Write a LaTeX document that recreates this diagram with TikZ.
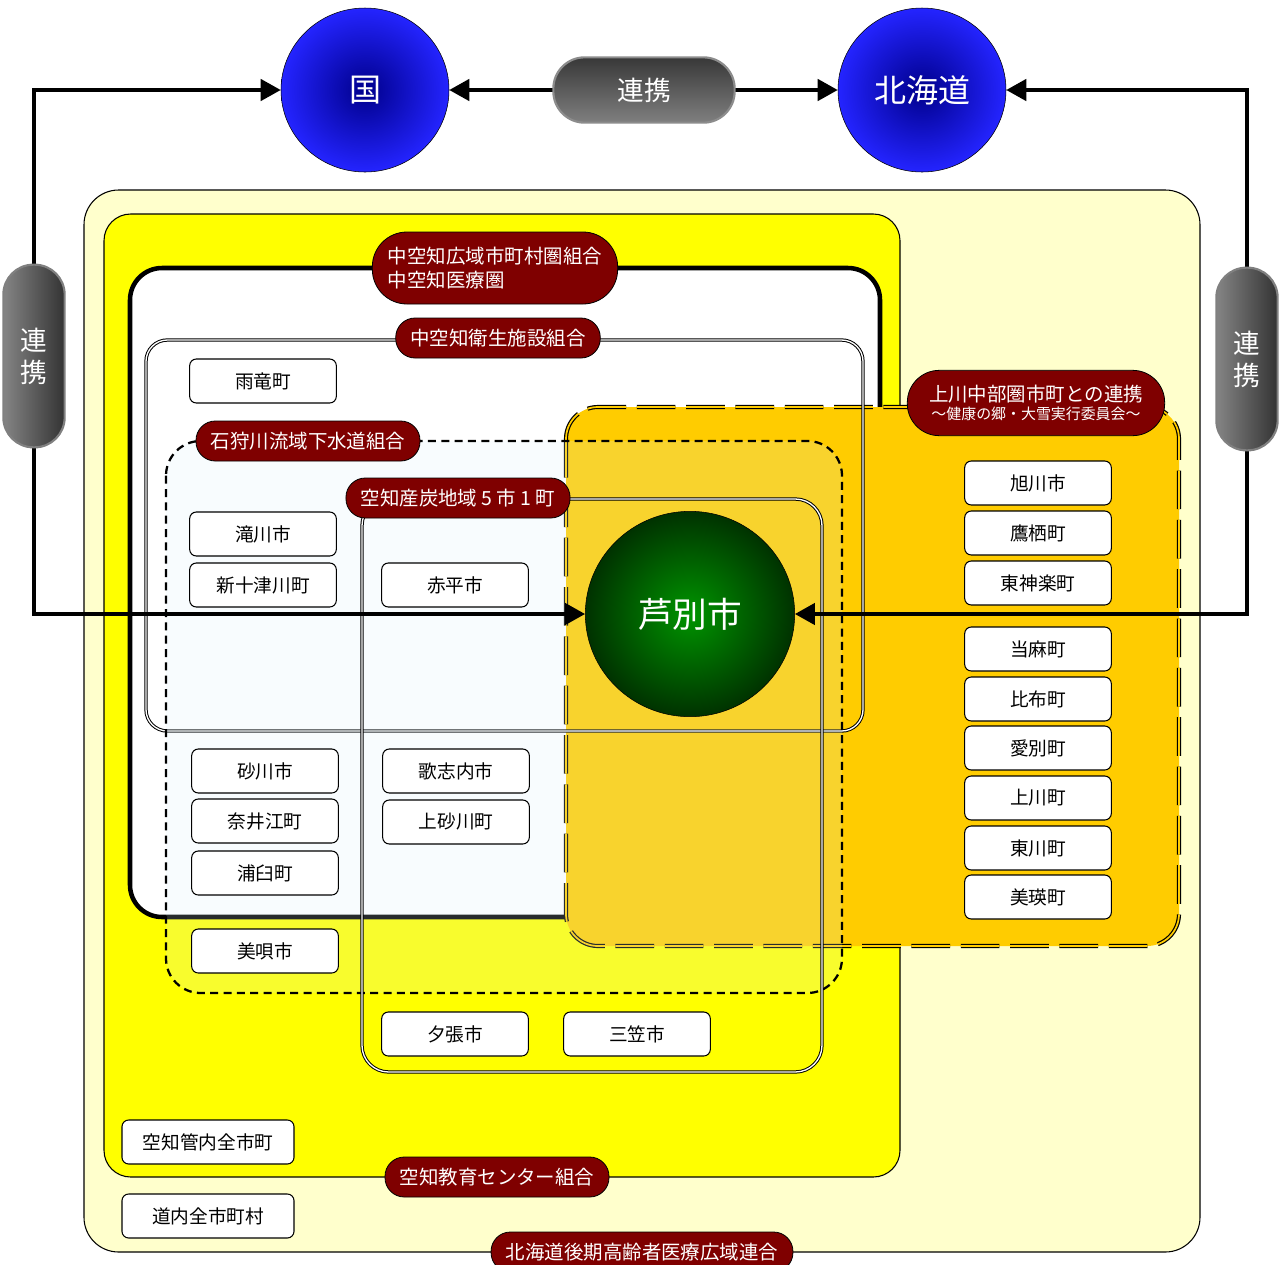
\documentclass[tikz,border=0pt]{standalone}
\usepackage{fontspec}
\setmainfont{Noto Sans CJK JP}
\usetikzlibrary{shapes.geometric,arrows.meta}
\definecolor{lyel}{HTML}{FFFFCC}
\definecolor{yel}{HTML}{FFFF00}
\definecolor{org}{HTML}{FFCC00}
\definecolor{dred}{HTML}{7F0000}
\definecolor{navyc}{HTML}{00008C}
\definecolor{bluee}{HTML}{2424FF}
\definecolor{greenc}{HTML}{009400}
\definecolor{greene}{HTML}{003200}
\pgfdeclarelayer{regions}
\pgfdeclarelayer{lines}
\pgfsetlayers{regions,lines,main}
\begin{document}
\begin{tikzpicture}[x=0.75pt,y=-0.75pt,
  muni/.style={draw, fill=white, rounded corners=5pt, minimum width=110pt, minimum height=33pt, inner sep=0pt, line width=0.8pt, font=\fontsize{14}{16}\selectfont},
  tag/.style={draw, fill=dred, text=white, rounded corners=14.5pt, minimum height=30pt, inner xsep=11pt, inner ysep=0pt, line width=0.6pt, font=\fontsize{14.6}{17}\selectfont},
  pillh/.style={draw=black!45, line width=1.6pt, text=white, shading=axis, top color=black!78, bottom color=black!50, rounded corners=23.5pt, minimum width=136pt, minimum height=49pt, font=\fontsize{20}{24}\selectfont},
  pillv/.style={draw=black!50, line width=1.6pt, text=white, shading=axis, left color=black!48, right color=black!80, rounded corners=22.5pt, minimum width=46pt, minimum height=137pt, align=center, font=\fontsize{20}{24}\selectfont},
  ballb/.style={ellipse, draw, text=white, inner sep=0pt, shading=radial, inner color=navyc, outer color=bluee, minimum width=126pt, minimum height=123pt, font=\fontsize{24}{28}\selectfont},
  link/.style={line width=2.6pt, {Triangle[length=15pt,width=16pt]}-{Triangle[length=15pt,width=16pt]}},
  dbl/.style={double=white, double distance=1pt, line width=0.75pt}
]
\useasboundingbox (0,0) rectangle (1283,1265);

\begin{pgfonlayer}{regions}
\fill[white] (0,0) rectangle (1283,1265);
% 北海道後期高齢者医療広域連合
\draw[fill=lyel, line width=0.8pt, rounded corners=26pt] (84,190) rectangle (1200,1252);
% 空知教育センター組合
\draw[fill=yel, line width=0.8pt, rounded corners=20pt] (104,214) rectangle (900,1177);
% 中空知広域市町村圏組合
\draw[fill=white, line width=3.4pt, rounded corners=24pt] (130,268) rectangle (880,917);
% 上川中部圏
\draw[fill=org, dbl, double=org, double distance=1.3pt, line width=0.9pt, dash pattern=on 29pt off 8pt, rounded corners=24pt] (566,407) rectangle (1179,946);
% 中空知衛生施設組合
\draw[dbl, rounded corners=16pt] (146,340) rectangle (863,731);
% 石狩川流域下水道組合
\fill[cyan!15!white, fill opacity=0.18, rounded corners=26pt] (166,441) rectangle (842,993);
\draw[line width=1.7pt, dash pattern=on 6pt off 4pt, rounded corners=26pt] (166,441) rectangle (842,993);
% 空知産炭地域
\draw[dbl, rounded corners=20pt] (362,499) rectangle (822,1072);
\end{pgfonlayer}

% circles
\node[ballb] (kuni) at (365,90) {国};
\node[ballb] (hokkaido) at (922,90) {北海道};
\node[ellipse, draw, text=white, inner sep=0pt, shading=radial, inner color=greenc, outer color=greene, minimum width=157pt, minimum height=154pt, font=\fontsize{26}{30}\selectfont] (ashibetsu) at (690,614) {芦別市};

% pills
\node[pillh] (renT) at (644,90) {連携};
\node[pillv] (renL) at (34,356) {連\\携};
\node[pillv] (renR) at (1247,359) {連\\携};

% connectors
\begin{pgfonlayer}{lines}
\draw[link] (kuni.east) -- (hokkaido.west);
\draw[link] (kuni.west) -| (renL.center) |- (ashibetsu.west);
\draw[link] (hokkaido.east) -| (renR.center) |- (ashibetsu.east);
\end{pgfonlayer}

% municipalities
\node[muni] (uryu) at (263,381) {雨竜町};
\node[muni] (takikawa) at (263,534) {滝川市};
\node[muni] (shintotsukawa) at (263,585) {新十津川町};
\node[muni] (akabira) at (455,585) {赤平市};
\node[muni] (sunagawa) at (265,771) {砂川市};
\node[muni] (naie) at (265,821) {奈井江町};
\node[muni] (urausu) at (265,873) {浦臼町};
\node[muni] (bibai) at (265,951) {美唄市};
\node[muni] (utashinai) at (456,771) {歌志内市};
\node[muni] (kamisunagawa) at (456,822) {上砂川町};
\node[muni] (yubari) at (455,1034) {夕張市};
\node[muni] (mikasa) at (637,1034) {三笠市};
\node[muni] (asahikawa) at (1038,483) {旭川市};
\node[muni] (takasu) at (1038,533) {鷹栖町};
\node[muni] (higashikagura) at (1038,583) {東神楽町};
\node[muni] (toma) at (1038,649) {当麻町};
\node[muni] (pippu) at (1038,699) {比布町};
\node[muni] (aibetsu) at (1038,748) {愛別町};
\node[muni] (kamikawacho) at (1038,798) {上川町};
\node[muni] (higashikawa) at (1038,848) {東川町};
\node[muni] (biei) at (1038,897) {美瑛町};
\node[muni, minimum width=129pt] (sorachiall) at (208,1142) {空知管内全市町};
\node[muni, minimum width=129pt] (doall) at (208,1216) {道内全市町村};

% region labels
\node[tag, align=left, minimum width=184pt, minimum height=54pt, rounded corners=26pt, font=\fontsize{14.6}{18}\selectfont] (chukuuchi) at (495,268) {中空知広域市町村圏組合\\中空知医療圏};
\node[tag] (eisei) at (498,338) {中空知衛生施設組合};
\node[tag] (ishikari) at (308,441) {石狩川流域下水道組合};
\node[tag] (santan) at (458,498) {空知産炭地域 5 市 1 町};
\node[tag, align=center, minimum width=193pt, minimum height=49pt, rounded corners=24pt] (kamikawa) at (1036,403) {上川中部圏市町との連携\\[-3pt]{\fontsize{11.2}{13}\selectfont ～健康の郷・大雪実行委員会～}};
\node[tag] (kyoiku) at (497,1177) {空知教育センター組合};
\node[tag] (kouki) at (642,1252) {北海道後期高齢者医療広域連合};
\end{tikzpicture}
\end{document}
